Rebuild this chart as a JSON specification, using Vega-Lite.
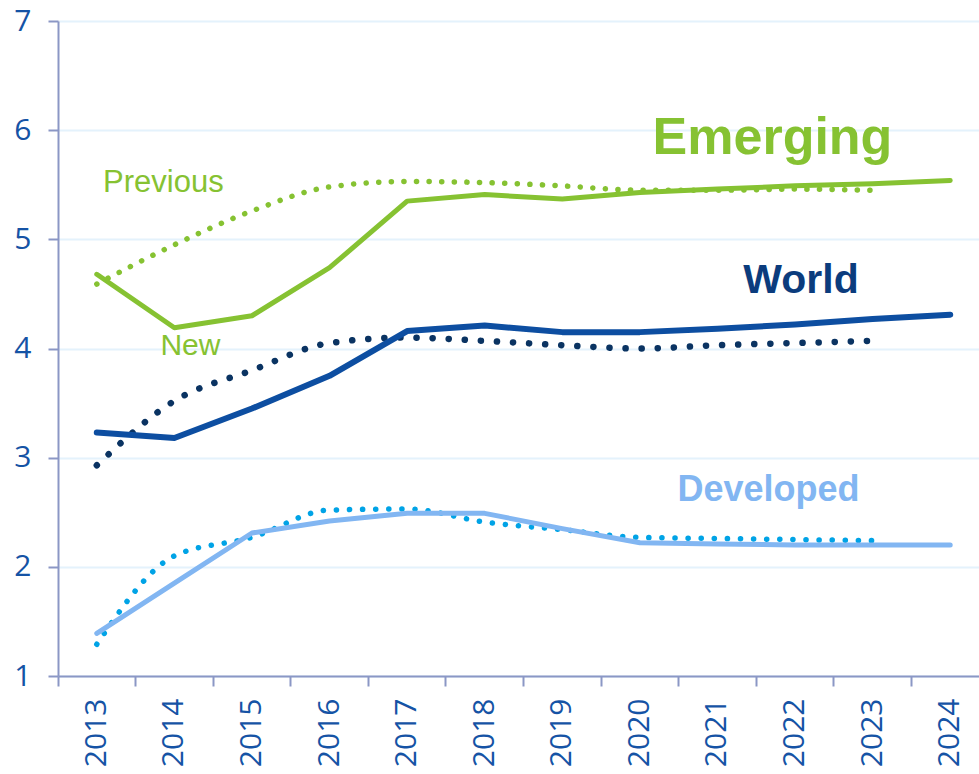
{
  "$schema": "https://vega.github.io/schema/vega-lite/v6.json",
  "width": 921,
  "height": 655,
  "autosize": {"type": "none"},
  "padding": {"left": 58, "top": 21, "right": 0, "bottom": 98},
  "background": "white",
  "config": {"view": {"stroke": null}},
  "datasets": {
    "series": [
      {"series": "Emerging", "kind": "New", "year": "2013", "value": 4.68},
      {"series": "Emerging", "kind": "New", "year": "2014", "value": 4.19},
      {"series": "Emerging", "kind": "New", "year": "2015", "value": 4.30},
      {"series": "Emerging", "kind": "New", "year": "2016", "value": 4.74},
      {"series": "Emerging", "kind": "New", "year": "2017", "value": 5.35},
      {"series": "Emerging", "kind": "New", "year": "2018", "value": 5.41},
      {"series": "Emerging", "kind": "New", "year": "2019", "value": 5.37},
      {"series": "Emerging", "kind": "New", "year": "2020", "value": 5.43},
      {"series": "Emerging", "kind": "New", "year": "2021", "value": 5.46},
      {"series": "Emerging", "kind": "New", "year": "2022", "value": 5.49},
      {"series": "Emerging", "kind": "New", "year": "2023", "value": 5.51},
      {"series": "Emerging", "kind": "New", "year": "2024", "value": 5.54},
      {"series": "World", "kind": "New", "year": "2013", "value": 3.23},
      {"series": "World", "kind": "New", "year": "2014", "value": 3.18},
      {"series": "World", "kind": "New", "year": "2015", "value": 3.45},
      {"series": "World", "kind": "New", "year": "2016", "value": 3.75},
      {"series": "World", "kind": "New", "year": "2017", "value": 4.16},
      {"series": "World", "kind": "New", "year": "2018", "value": 4.21},
      {"series": "World", "kind": "New", "year": "2019", "value": 4.15},
      {"series": "World", "kind": "New", "year": "2020", "value": 4.15},
      {"series": "World", "kind": "New", "year": "2021", "value": 4.18},
      {"series": "World", "kind": "New", "year": "2022", "value": 4.22},
      {"series": "World", "kind": "New", "year": "2023", "value": 4.27},
      {"series": "World", "kind": "New", "year": "2024", "value": 4.31},
      {"series": "Developed", "kind": "New", "year": "2013", "value": 1.39},
      {"series": "Developed", "kind": "New", "year": "2014", "value": 1.85},
      {"series": "Developed", "kind": "New", "year": "2015", "value": 2.31},
      {"series": "Developed", "kind": "New", "year": "2016", "value": 2.42},
      {"series": "Developed", "kind": "New", "year": "2017", "value": 2.49},
      {"series": "Developed", "kind": "New", "year": "2018", "value": 2.49},
      {"series": "Developed", "kind": "New", "year": "2019", "value": 2.35},
      {"series": "Developed", "kind": "New", "year": "2020", "value": 2.22},
      {"series": "Developed", "kind": "New", "year": "2021", "value": 2.21},
      {"series": "Developed", "kind": "New", "year": "2022", "value": 2.20},
      {"series": "Developed", "kind": "New", "year": "2023", "value": 2.20},
      {"series": "Developed", "kind": "New", "year": "2024", "value": 2.20},
      {"series": "Emerging", "kind": "Previous", "year": "2013", "value": 4.59},
      {"series": "Emerging", "kind": "Previous", "year": "2014", "value": 4.95},
      {"series": "Emerging", "kind": "Previous", "year": "2015", "value": 5.26},
      {"series": "Emerging", "kind": "Previous", "year": "2016", "value": 5.48},
      {"series": "Emerging", "kind": "Previous", "year": "2017", "value": 5.53},
      {"series": "Emerging", "kind": "Previous", "year": "2018", "value": 5.52},
      {"series": "Emerging", "kind": "Previous", "year": "2019", "value": 5.49},
      {"series": "Emerging", "kind": "Previous", "year": "2020", "value": 5.45},
      {"series": "Emerging", "kind": "Previous", "year": "2021", "value": 5.45},
      {"series": "Emerging", "kind": "Previous", "year": "2022", "value": 5.46},
      {"series": "Emerging", "kind": "Previous", "year": "2023", "value": 5.45},
      {"series": "World", "kind": "Previous", "year": "2013", "value": 2.93},
      {"series": "World", "kind": "Previous", "year": "2014", "value": 3.52},
      {"series": "World", "kind": "Previous", "year": "2015", "value": 3.80},
      {"series": "World", "kind": "Previous", "year": "2016", "value": 4.05},
      {"series": "World", "kind": "Previous", "year": "2017", "value": 4.10},
      {"series": "World", "kind": "Previous", "year": "2018", "value": 4.07},
      {"series": "World", "kind": "Previous", "year": "2019", "value": 4.03},
      {"series": "World", "kind": "Previous", "year": "2020", "value": 4.00},
      {"series": "World", "kind": "Previous", "year": "2021", "value": 4.03},
      {"series": "World", "kind": "Previous", "year": "2022", "value": 4.05},
      {"series": "World", "kind": "Previous", "year": "2023", "value": 4.07},
      {"series": "Developed", "kind": "Previous", "year": "2013", "value": 1.29},
      {"series": "Developed", "kind": "Previous", "year": "2014", "value": 2.10},
      {"series": "Developed", "kind": "Previous", "year": "2015", "value": 2.27},
      {"series": "Developed", "kind": "Previous", "year": "2016", "value": 2.52},
      {"series": "Developed", "kind": "Previous", "year": "2017", "value": 2.53},
      {"series": "Developed", "kind": "Previous", "year": "2018", "value": 2.41},
      {"series": "Developed", "kind": "Previous", "year": "2019", "value": 2.34},
      {"series": "Developed", "kind": "Previous", "year": "2020", "value": 2.27},
      {"series": "Developed", "kind": "Previous", "year": "2021", "value": 2.26},
      {"series": "Developed", "kind": "Previous", "year": "2022", "value": 2.25},
      {"series": "Developed", "kind": "Previous", "year": "2023", "value": 2.24}
    ],
    "labels": [
      {"label": "Emerging", "year": "2021", "value": 5.786},
      {"label": "World", "year": "2022", "value": 4.509},
      {"label": "Developed", "year": "2021", "value": 2.605},
      {"label": "Previous", "year": "2014", "value": 5.434},
      {"label": "New", "year": "2014", "value": 3.939}
    ]
  },
  "encoding": {
    "x": {
      "field": "year",
      "type": "ordinal",
      "scale": {
        "type": "band",
        "domain": ["2013","2014","2015","2016","2017","2018","2019","2020","2021","2022","2023","2024"],
        "range": [0, 931],
        "paddingInner": 0,
        "paddingOuter": 0
      },
      "axis": {
        "title": null,
        "bandPosition": 0,
        "labelAngle": 270,
        "labelFont": "Open Sans",
        "labelFontSize": 30,
        "labelColor": "#1553a5",
        "labelPadding": 12,
        "tickSize": 10,
        "tickWidth": 2,
        "tickColor": "#8b97c5",
        "domainColor": "#8b97c5",
        "domainWidth": 2,
        "grid": false
      }
    },
    "y": {
      "field": "value",
      "type": "quantitative",
      "scale": {"domain": [1, 7], "nice": false, "zero": false},
      "axis": {
        "title": null,
        "values": [1, 2, 3, 4, 5, 6, 7],
        "labelFont": "Open Sans",
        "labelFontSize": 30,
        "labelColor": "#1553a5",
        "labelPadding": 17,
        "tickSize": 10,
        "tickWidth": 2,
        "tickColor": "#8b97c5",
        "domainColor": "#8b97c5",
        "domainWidth": 2,
        "grid": true,
        "gridColor": "#e4f2fc",
        "gridWidth": 2
      }
    }
  },
  "layer": [
    {
      "data": {"name": "series"},
      "transform": [{"filter": "datum.series === 'Developed' && datum.kind === 'Previous'"}],
      "mark": {"type": "line", "color": "#00a3e6", "strokeWidth": 5.5, "strokeDash": [0.1, 13], "strokeCap": "round", "interpolate": "monotone"}
    },
    {
      "data": {"name": "series"},
      "transform": [{"filter": "datum.series === 'Developed' && datum.kind === 'New'"}],
      "mark": {"type": "line", "color": "#82b6f2", "strokeWidth": 5, "strokeCap": "round", "strokeJoin": "round"}
    },
    {
      "data": {"name": "series"},
      "transform": [{"filter": "datum.series === 'World' && datum.kind === 'Previous'"}],
      "mark": {"type": "line", "color": "#0a3362", "strokeWidth": 6.5, "strokeDash": [0.1, 16], "strokeCap": "round", "interpolate": "monotone"}
    },
    {
      "data": {"name": "series"},
      "transform": [{"filter": "datum.series === 'World' && datum.kind === 'New'"}],
      "mark": {"type": "line", "color": "#0d4ea1", "strokeWidth": 6, "strokeCap": "round", "strokeJoin": "round"}
    },
    {
      "data": {"name": "series"},
      "transform": [{"filter": "datum.series === 'Emerging' && datum.kind === 'Previous'"}],
      "mark": {"type": "line", "color": "#86c232", "strokeWidth": 5.5, "strokeDash": [0.1, 12.5], "strokeCap": "round", "interpolate": "monotone"}
    },
    {
      "data": {"name": "series"},
      "transform": [{"filter": "datum.series === 'Emerging' && datum.kind === 'New'"}],
      "mark": {"type": "line", "color": "#86c232", "strokeWidth": 5, "strokeCap": "round", "strokeJoin": "round"}
    },
    {
      "data": {"name": "labels"},
      "transform": [{"filter": "datum.label === 'Emerging'"}],
      "mark": {"type": "text", "font": "Liberation Sans", "fontWeight": "bold", "fontSize": 52, "color": "#86c232", "align": "center", "baseline": "alphabetic", "dx": 55},
      "encoding": {"text": {"field": "label"}}
    },
    {
      "data": {"name": "labels"},
      "transform": [{"filter": "datum.label === 'World'"}],
      "mark": {"type": "text", "font": "Liberation Sans", "fontWeight": "bold", "fontSize": 41, "color": "#0b3c7d", "align": "center", "baseline": "alphabetic", "dx": 6},
      "encoding": {"text": {"field": "label"}}
    },
    {
      "data": {"name": "labels"},
      "transform": [{"filter": "datum.label === 'Developed'"}],
      "mark": {"type": "text", "font": "Liberation Sans", "fontWeight": "bold", "fontSize": 36, "color": "#82b6f2", "align": "center", "baseline": "alphabetic", "dx": 51},
      "encoding": {"text": {"field": "label"}}
    },
    {
      "data": {"name": "labels"},
      "transform": [{"filter": "datum.label === 'Previous'"}],
      "mark": {"type": "text", "font": "Liberation Sans", "fontSize": 31, "color": "#86c232", "align": "center", "baseline": "alphabetic", "dx": -11},
      "encoding": {"text": {"field": "label"}}
    },
    {
      "data": {"name": "labels"},
      "transform": [{"filter": "datum.label === 'New'"}],
      "mark": {"type": "text", "font": "Liberation Sans", "fontSize": 30, "color": "#86c232", "align": "center", "baseline": "alphabetic", "dx": 16},
      "encoding": {"text": {"field": "label"}}
    }
  ]
}
